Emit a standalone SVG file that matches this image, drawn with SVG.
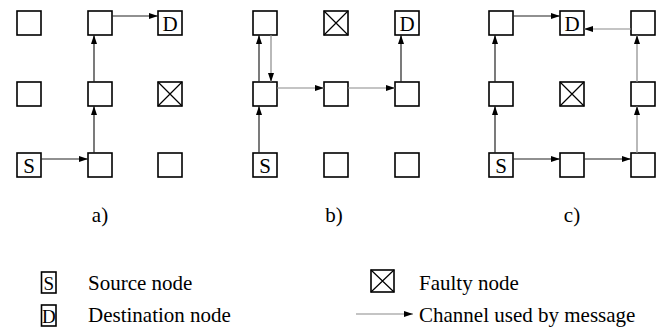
<svg xmlns="http://www.w3.org/2000/svg" width="667" height="330" viewBox="0 0 667 330">
<defs>
<style>
.n{fill:#fff;stroke:#000;stroke-width:1.6}
.x{stroke:#000;stroke-width:1.2;fill:none}
.t{font-family:'Liberation Serif','DejaVu Serif',serif;fill:#000}
.lt{font-size:21px;text-anchor:middle}
.lg{font-size:21px}
.c{stroke:#222;stroke-width:1.2;fill:none;marker-end:url(#ah)}
.g{stroke:#8a8a8a;stroke-width:1.2;fill:none;marker-end:url(#ah)}
</style>
<marker id="ah" markerUnits="userSpaceOnUse" markerWidth="9" markerHeight="6" refX="9" refY="3" orient="auto">
<path d="M0,0 L9,3 L0,6 z" fill="#000"/>
</marker>
</defs>
<rect width="667" height="330" fill="#fff"/>

<!-- Panel a -->
<g id="a-n11"><rect class="n" x="17" y="11" width="24" height="24"/></g>
<g id="a-n12"><rect class="n" x="88" y="11" width="24" height="24"/></g>
<g id="a-D"><rect class="n" x="158" y="11" width="24" height="24"/><text class="t lt" x="170" y="31">D</text></g>
<g id="a-n21"><rect class="n" x="17" y="82" width="24" height="24"/></g>
<g id="a-n22"><rect class="n" x="88" y="82" width="24" height="24"/></g>
<g id="a-F"><rect class="n" x="158" y="82" width="24" height="24"/><path class="x" d="M158,82 L182,106 M182,82 L158,106"/></g>
<g id="a-S"><rect class="n" x="17" y="153" width="24" height="24"/><text class="t lt" x="29" y="173">S</text></g>
<g id="a-n32"><rect class="n" x="88" y="153" width="24" height="24"/></g>
<g id="a-n33"><rect class="n" x="158" y="153" width="24" height="24"/></g>
<text class="t lt" x="100" y="222">a)</text>

<!-- Panel b -->
<g id="b-n11"><rect class="n" x="253" y="11" width="24" height="24"/></g>
<g id="b-F"><rect class="n" x="324" y="11" width="24" height="24"/><path class="x" d="M324,11 L348,35 M348,11 L324,35"/></g>
<g id="b-D"><rect class="n" x="395" y="11" width="24" height="24"/><text class="t lt" x="407" y="31">D</text></g>
<g id="b-n21"><rect class="n" x="253" y="82" width="24" height="24"/></g>
<g id="b-n22"><rect class="n" x="324" y="82" width="24" height="24"/></g>
<g id="b-n23"><rect class="n" x="395" y="82" width="24" height="24"/></g>
<g id="b-S"><rect class="n" x="253" y="153" width="24" height="24"/><text class="t lt" x="265" y="173">S</text></g>
<g id="b-n32"><rect class="n" x="324" y="153" width="24" height="24"/></g>
<g id="b-n33"><rect class="n" x="395" y="153" width="24" height="24"/></g>
<text class="t lt" x="334" y="222">b)</text>

<!-- Panel c -->
<g id="c-n11"><rect class="n" x="489" y="11" width="24" height="24"/></g>
<g id="c-D"><rect class="n" x="560" y="11" width="24" height="24"/><text class="t lt" x="572" y="31">D</text></g>
<g id="c-n13"><rect class="n" x="631" y="11" width="24" height="24"/></g>
<g id="c-n21"><rect class="n" x="489" y="82" width="24" height="24"/></g>
<g id="c-F"><rect class="n" x="560" y="82" width="24" height="24"/><path class="x" d="M560,82 L584,106 M584,82 L560,106"/></g>
<g id="c-n23"><rect class="n" x="631" y="82" width="24" height="24"/></g>
<g id="c-S"><rect class="n" x="489" y="153" width="24" height="24"/><text class="t lt" x="501" y="173">S</text></g>
<g id="c-n32"><rect class="n" x="560" y="153" width="24" height="24"/></g>
<g id="c-n33"><rect class="n" x="631" y="153" width="24" height="24"/></g>
<text class="t lt" x="572" y="222">c)</text>

<!-- Connectors -->
<g id="connectors">
<path class="c" d="M41,159 L88,159"/>
<path class="c" d="M94,153 L94,106"/>
<path class="c" d="M94,82 L94,35"/>
<path class="c" d="M112,16 L158,16"/>

<path class="c" d="M259,153 L259,106"/>
<path class="c" d="M259,82 L259,35"/>
<path class="g" d="M271,35 L271,82"/>
<path class="g" d="M277,88 L324,88"/>
<path class="g" d="M348,88 L395,88"/>
<path class="c" d="M401,82 L401,35"/>

<path class="c" d="M495,153 L495,106"/>
<path class="c" d="M495,82 L495,35"/>
<path class="c" d="M513,16 L560,16"/>
<path class="c" d="M513,159 L560,159"/>
<path class="c" d="M584,159 L631,159"/>
<path class="g" d="M637,153 L637,106"/>
<path class="g" d="M637,82 L637,35"/>
<path class="g" d="M631,29 L584,29"/>
</g>

<!-- Legend -->
<g id="legend-S"><rect class="n" x="41.5" y="272" width="14.5" height="21"/><text class="t" x="48.75" y="290" font-size="19" text-anchor="middle">S</text><text class="t lg" x="88" y="290">Source node</text></g>
<g id="legend-D"><rect class="n" x="41.5" y="305" width="14.5" height="21"/><text class="t" x="48.75" y="323" font-size="19" text-anchor="middle">D</text><text class="t lg" x="88" y="322">Destination node</text></g>
<g id="legend-F"><rect class="n" x="371" y="270" width="23" height="22"/><path class="x" d="M371,270 L394,292 M394,270 L371,292"/><text class="t lg" x="419" y="290">Faulty node</text></g>
<g id="legend-C"><path class="g" d="M356,314 L413,314"/><text class="t lg" x="419" y="322">Channel used by message</text></g>
</svg>
